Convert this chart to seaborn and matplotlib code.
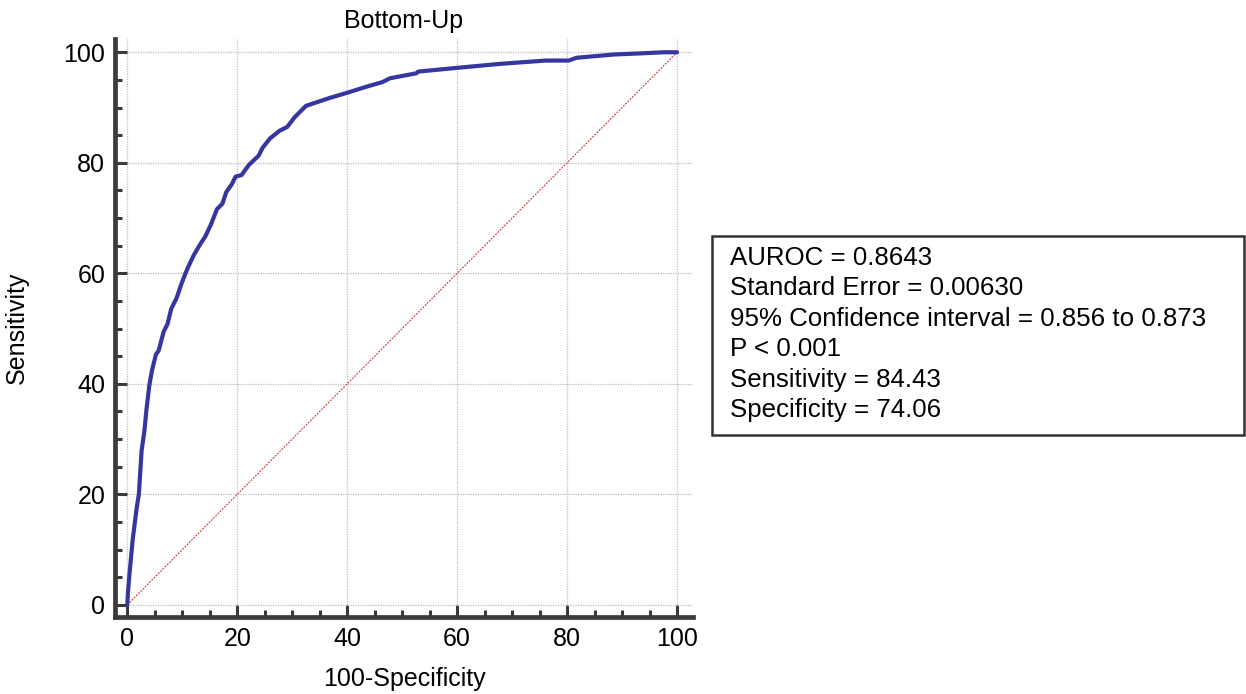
import matplotlib
matplotlib.use("Agg")
import matplotlib.pyplot as plt
from matplotlib.patches import Rectangle
from matplotlib.ticker import MultipleLocator
import seaborn as sns
import pandas as pd

# ROC curve points (100-Specificity, Sensitivity)
fpr = [0.0, 0.1, 0.35, 1.0, 1.7, 2.1, 2.6, 3.1, 3.5, 4.0, 4.5, 5.2, 5.7, 6.6, 7.3,
       8.0, 9.0, 9.7, 10.5, 11.1, 12.1, 13.1, 14.2, 15.2, 16.3, 17.3, 18.0, 19.0,
       19.7, 20.8, 22.1, 23.9, 24.6, 25.95, 27.7, 29.1, 30.4, 32.5, 36.7, 40.1,
       43.6, 46.4, 47.8, 52.6, 52.9, 60.2, 67.8, 76.1, 80.3, 81.7, 85.1, 88.6,
       93.4, 97.6, 100.0]
tpr = [0.0, 2.0, 5.1, 12.0, 17.5, 20.0, 27.9, 31.4, 35.5, 39.7, 42.5, 45.3, 46.0,
       49.4, 50.8, 53.6, 55.6, 57.7, 59.8, 61.2, 63.3, 65.0, 66.7, 68.8, 71.6,
       72.6, 74.7, 76.1, 77.5, 77.8, 79.6, 81.3, 82.7, 84.4, 85.8, 86.5, 88.2,
       90.3, 91.7, 92.7, 93.8, 94.6, 95.3, 96.2, 96.5, 97.2, 97.9, 98.5, 98.5,
       99.0, 99.3, 99.6, 99.8, 100.0, 100.0]

diag_x = [0, 100]
diag_y = [0, 100]

title = "Bottom-Up"
x_label = "100-Specificity"
y_label = "Sensitivity"
tick_values = [0, 20, 40, 60, 80, 100]
stats_lines = [
    "AUROC = 0.8643",
    "Standard Error = 0.00630",
    "95% Confidence interval = 0.856 to 0.873",
    "P < 0.001",
    "Sensitivity = 84.43",
    "Specificity = 74.06",
]

sns.set_style("white")
plt.rcParams["font.family"] = ["Liberation Sans", "DejaVu Sans"]
plt.rcParams["font.size"] = 18
plt.rcParams["text.color"] = "black"
plt.rcParams["axes.labelcolor"] = "black"

W, H = 1246, 694
fig = plt.figure(figsize=(W / 100, H / 100), dpi=100)
ax = fig.add_axes([115 / W, (H - 617) / H, (693 - 115) / W, (617 - 39) / H])

roc = pd.DataFrame({"fpr": fpr, "tpr": tpr})
diag = pd.DataFrame({"x": diag_x, "y": diag_y})

sns.lineplot(data=diag, x="x", y="y", ax=ax, color="#c05050", lw=0.9,
             linestyle=(0, (1.5, 1)), sort=False, estimator=None)
sns.lineplot(data=roc, x="fpr", y="tpr", ax=ax, color="#3636a0", lw=3.0,
             sort=False, estimator=None, solid_joinstyle="round")

ax.set_xlim(-2.24, 102.9)
ax.set_ylim(-2.2, 102.4)
ax.set_xticks(tick_values)
ax.set_yticks(tick_values)
ax.xaxis.set_minor_locator(MultipleLocator(5))
ax.yaxis.set_minor_locator(MultipleLocator(5))

ax.grid(True, which="major", color="#bdbdbd", linestyle=(0, (1, 1)), lw=0.9)
ax.set_axisbelow(True)

for side in ("top", "right"):
    ax.spines[side].set_visible(False)
for side in ("left", "bottom"):
    ax.spines[side].set_color("#3a3a3a")
    ax.spines[side].set_linewidth(3.4)

ax.tick_params(which="major", direction="in", length=8.5, width=2.2,
               color="#3a3a3a", labelcolor="black", labelsize=18, pad=7)
ax.tick_params(which="minor", direction="in", length=5, width=2.2,
               color="#3a3a3a")
ax.tick_params(axis="y", which="both", left=True)
ax.tick_params(axis="x", which="both", bottom=True)

ax.set_xlabel(x_label, fontsize=18, labelpad=12)
ax.set_ylabel(y_label, fontsize=18, labelpad=25)
ax.set_title(title, fontsize=18, pad=8)

# statistics box
fig.add_artist(Rectangle((712 / W, (H - 435) / H), (1244 - 712) / W, (435 - 236) / H,
                         transform=fig.transFigure, fill=False,
                         edgecolor="#333333", lw=1.8))
for i, line in enumerate(stats_lines):
    y = 258 + i * 30.4
    fig.text(730 / W, (H - y) / H, line, fontsize=18.6, ha="left", va="center",
             color="black")

fig.savefig("out.png", dpi=100)
